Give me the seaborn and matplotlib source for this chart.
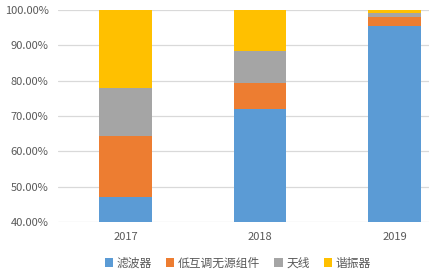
import numpy as np
import pandas as pd
import matplotlib.pyplot as plt
import seaborn as sns
from matplotlib.patches import Patch

years = ["2017", "2018", "2019"]
series = ["滤波器", "低互调无源组件", "天线", "谐振器"]
lvbo = [47.0, 72.0, 95.6]
dihutiao = [17.3, 7.3, 2.4]
tianxian = [13.6, 9.1, 1.2]
xiezhen = [22.1, 11.6, 0.8]
colors = ["#5B9BD5", "#ED7D31", "#A5A5A5", "#FFC000"]

df = pd.DataFrame({"year": years, series[0]: lvbo, series[1]: dihutiao,
                   series[2]: tianxian, series[3]: xiezhen})
cum = df[series].cumsum(axis=1)
cum["year"] = df["year"]

sns.set_style("white")
plt.rcParams['font.family'] = ['Noto Sans CJK SC', 'DejaVu Sans']

fig = plt.figure(figsize=(4.29, 2.75), dpi=100)
ax = fig.add_axes([58.25 / 429, 53 / 275, 403.5 / 429, 212 / 275])

# draw from top layer down so each stacked piece shows
for s, c in reversed(list(zip(series, colors))):
    sns.barplot(data=cum, x="year", y=s, color=c, width=0.394,
                saturation=1, linewidth=0, ax=ax, zorder=3)

ax.set_ylim(40, 100)
ax.set_xlim(-0.5, 2.5)
ax.set_yticks(np.arange(40, 101, 10))
ax.set_yticklabels([f"{v:.2f}%" for v in np.arange(40, 101, 10)])
ax.yaxis.grid(True, color="#D9D9D9", linewidth=0.9, zorder=0)
ax.set_axisbelow(True)
for sp in ax.spines.values():
    sp.set_visible(False)
ax.set_xlabel("")
ax.set_ylabel("")
ax.tick_params(axis="both", length=0, labelsize=8, colors="#595959", pad=7)

handles = [Patch(facecolor=c, edgecolor="none") for c in colors]
fig.legend(handles, series, loc="center", bbox_to_anchor=(238 / 429, 1 - 263 / 275),
           ncol=4, frameon=False, fontsize=8.5, handlelength=0.7, handleheight=0.7,
           handletextpad=0.3, columnspacing=1.2, labelcolor="#595959")

fig.savefig("out.png", dpi=100)
